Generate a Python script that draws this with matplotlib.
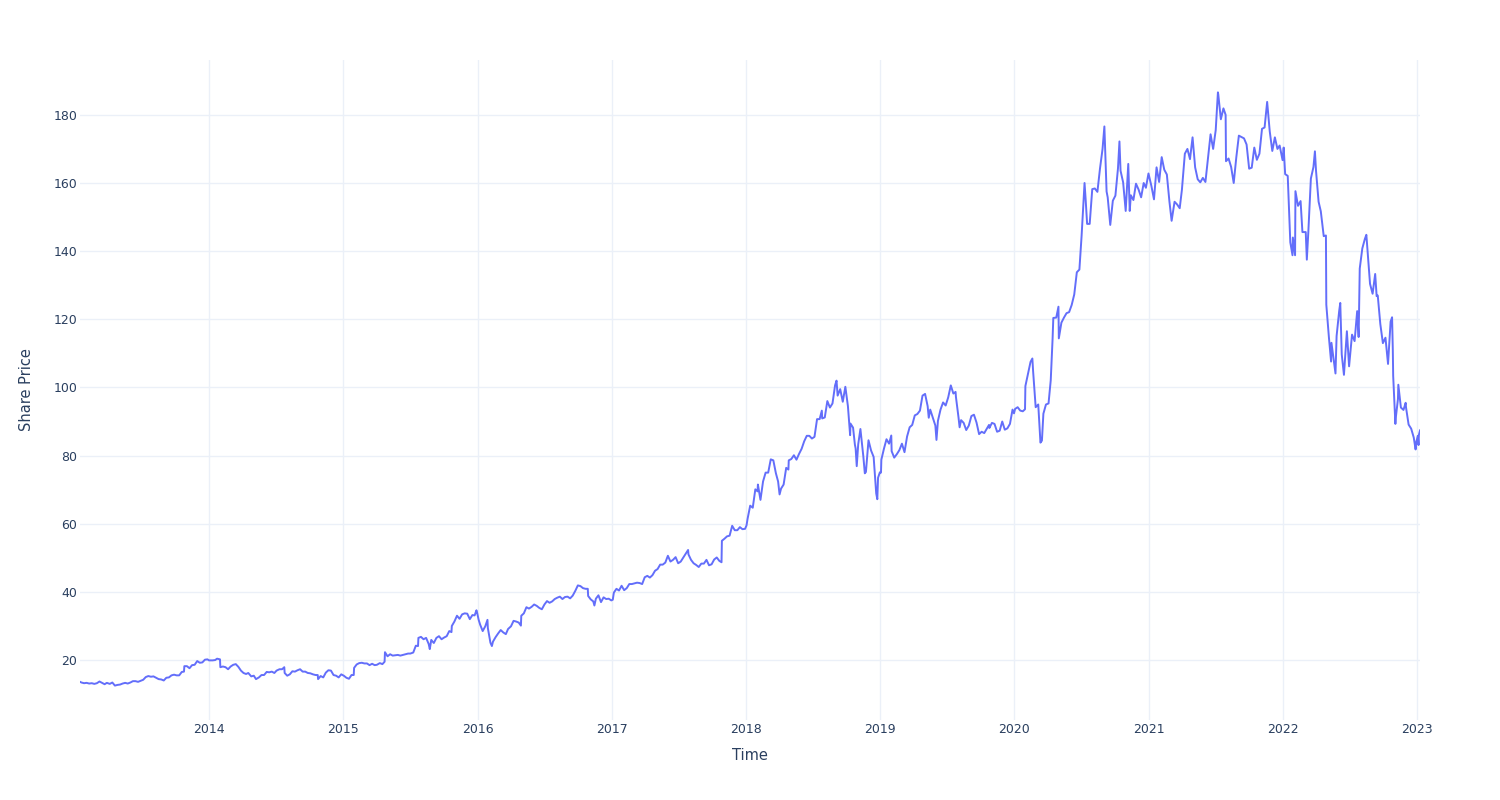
import pandas as pd
import matplotlib
matplotlib.use("Agg")
import matplotlib.pyplot as plt

# weekly-ish share prices (dates as MM-DD per year)
d2013 = ["01-14","01-18","01-25","02-01","02-08","02-15","02-22","03-01","03-08","03-15","03-22","03-28",
         "04-05","04-12","04-19","04-26","05-03","05-10","05-17","05-24","05-31","06-07","06-14","06-21","06-28",
         "07-05","07-12","07-19","07-26","08-02","08-09","08-16","08-23","08-30","09-06","09-13","09-20","09-27",
         "10-04","10-11","10-18","10-24","10-25","11-01","11-08","11-15","11-22","11-29","12-06","12-13","12-20","12-27","12-31"]
p2013 = [13.6,13.4,13.2,13.3,13.1,13.2,13.0,13.2,13.7,13.3,12.9,13.3,
         13.0,13.4,12.5,12.7,12.8,13.1,13.3,13.1,13.4,13.8,13.8,13.6,13.9,
         14.2,15.0,15.3,15.1,15.2,14.8,14.4,14.3,14.0,14.8,14.9,15.5,15.7,
         15.5,15.5,16.5,16.6,18.2,18.2,17.6,18.5,18.6,19.7,19.2,19.3,20.1,20.2,19.9]

d2014 = ["01-03","01-10","01-17","01-22","01-30","01-31","02-07","02-14","02-21","02-28","03-07","03-14","03-21","03-28",
         "04-04","04-11","04-17","04-25","05-02","05-08","05-16","05-23","05-30","06-06","06-13","06-20","06-27",
         "07-03","07-11","07-18","07-24","07-25","08-01","08-08","08-15","08-22","08-29","09-05","09-12","09-19","09-26",
         "10-03","10-10","10-17","10-23","10-24","10-31","11-07","11-14","11-21","11-28","12-05","12-12","12-19","12-26","12-31"]
p2014 = [19.9,19.9,20.0,20.4,20.2,17.9,18.1,17.9,17.3,18.1,18.6,18.8,18.0,16.9,
         16.2,15.9,16.2,15.2,15.4,14.4,14.9,15.6,15.6,16.5,16.4,16.6,16.2,
         16.9,17.3,17.3,17.9,16.2,15.4,15.8,16.7,16.6,17.0,17.3,16.6,16.6,16.2,
         16.1,15.8,15.6,15.6,14.4,15.3,14.9,16.3,17.0,16.9,15.6,15.4,14.9,15.8,15.5]

d2015 = ["01-02","01-09","01-16","01-23","01-29","01-30","02-06","02-13","02-20","02-27","03-06","03-13","03-20","03-27",
         "04-02","04-10","04-17","04-23","04-24","05-01","05-08","05-15","05-22","05-29","06-05","06-12","06-19","06-26",
         "07-02","07-10","07-17","07-23","07-24","07-31","08-07","08-14","08-21","08-24","08-28","09-04","09-11","09-18","09-25",
         "10-02","10-09","10-16","10-22","10-23","10-30","11-06","11-13","11-20","11-27","12-04","12-11","12-18","12-24","12-29","12-31"]
p2015 = [15.4,14.8,14.5,15.6,15.6,17.7,18.7,19.1,19.2,19.0,19.0,18.5,18.9,18.5,
         18.6,19.1,18.8,19.5,22.3,21.1,21.7,21.3,21.4,21.5,21.3,21.5,21.7,21.9,
         21.9,22.2,24.2,24.1,26.5,26.8,26.1,26.5,24.7,23.2,25.9,25.0,26.5,27.0,26.1,
         26.6,27.0,28.5,28.2,30.0,31.3,33.0,32.1,33.4,33.7,33.6,32.0,33.2,33.1,34.6,33.8]

d2016 = ["01-04","01-08","01-15","01-22","01-28","01-29","02-05","02-09","02-12","02-19","02-26","03-04","03-11","03-18","03-24",
         "04-01","04-08","04-15","04-22","04-28","04-29","05-06","05-13","05-20","05-27","06-03","06-10","06-17","06-24",
         "07-01","07-08","07-15","07-22","07-29","08-05","08-12","08-19","08-26","09-02","09-09","09-16","09-23","09-30",
         "10-07","10-14","10-21","10-27","10-28","11-04","11-11","11-14","11-18","11-25","12-02","12-09","12-16","12-23","12-30"]
p2016 = [31.8,30.4,28.5,29.9,31.8,29.4,25.1,24.1,25.4,26.7,27.8,28.8,28.1,27.6,29.1,
         29.9,31.5,31.3,31.0,30.1,33.0,33.7,35.5,35.1,35.6,36.3,35.9,35.3,34.9,
         36.3,37.3,36.8,37.2,37.9,38.3,38.6,37.9,38.5,38.6,38.1,38.9,40.3,41.9,
         41.7,41.1,40.9,40.9,38.8,37.8,37.2,36.0,38.0,39.0,37.0,38.4,37.9,38.0,37.5]

d2017 = ["01-03","01-06","01-13","01-20","01-27","02-03","02-10","02-17","02-24","03-03","03-10","03-17","03-24","03-31",
         "04-07","04-14","04-21","04-28","05-05","05-12","05-19","05-26","06-02","06-09","06-16","06-23","06-30",
         "07-07","07-14","07-21","07-27","07-28","08-04","08-11","08-18","08-25","09-01","09-08","09-15","09-22","09-29",
         "10-06","10-13","10-20","10-26","10-27","11-03","11-10","11-17","11-24","12-01","12-08","12-15","12-22","12-29"]
p2017 = [37.7,39.8,40.9,40.4,41.8,40.5,41.1,42.3,42.3,42.5,42.7,42.6,42.3,44.3,
         44.7,44.2,44.9,46.2,46.7,48.0,48.0,48.6,50.6,48.9,49.4,50.2,48.4,
         48.9,50.1,51.3,52.3,51.0,49.4,48.4,47.9,47.3,48.3,48.3,49.4,47.8,48.1,
         49.5,50.1,49.1,48.7,55.0,55.6,56.3,56.5,59.4,58.1,58.1,59.0,58.4,58.5]

d2018 = ["01-02","01-05","01-12","01-19","01-26","02-01","02-02","02-08","02-09","02-16","02-23","03-02","03-09","03-16","03-23","03-29",
         "04-02","04-06","04-13","04-20","04-26","04-27","05-04","05-11","05-18","05-25","06-01","06-08","06-15","06-22","06-29",
         "07-06","07-13","07-20","07-26","07-27","08-03","08-10","08-17","08-24","08-31","09-04","09-07","09-14","09-21","09-28",
         "10-05","10-11","10-12","10-19","10-24","10-26","10-29","11-02","11-08","11-16","11-20","11-23","11-30",
         "12-07","12-14","12-21","12-24","12-26","12-31"]
p2018 = [59.5,61.5,65.3,64.7,70.1,69.5,71.5,67.6,67.0,72.4,75.0,75.0,78.9,78.6,74.8,72.4,
         68.6,70.3,71.5,76.4,75.9,78.6,79.0,80.1,78.8,80.5,82.0,84.2,85.8,85.8,85.0,
         85.5,90.7,90.7,93.2,90.9,91.2,96.0,94.1,95.3,100.6,102.0,97.6,99.5,95.8,100.2,
         94.5,86.0,89.4,88.2,83.2,82.1,76.9,83.3,87.8,79.7,74.8,75.2,84.5,
         81.5,79.6,68.9,67.2,73.5,75.1]

d2019 = ["01-03","01-04","01-11","01-18","01-25","01-31","02-01","02-08","02-15","02-22","03-01","03-08","03-15","03-22","03-29",
         "04-05","04-12","04-19","04-26","05-03","05-10","05-13","05-17","05-24","05-31","06-03","06-07","06-14","06-21","06-28",
         "07-05","07-12","07-19","07-25","07-26","08-02","08-05","08-09","08-16","08-23","08-30","09-06","09-13","09-20","09-27",
         "10-04","10-11","10-18","10-24","10-25","11-01","11-08","11-15","11-22","11-29","12-06","12-13","12-20","12-27","12-31"]
p2019 = [75.0,78.8,82.0,84.8,83.5,85.9,81.3,79.4,80.4,81.6,83.5,81.0,85.6,88.3,89.0,
         91.8,92.2,93.2,97.6,98.1,94.5,91.1,93.5,91.2,88.8,84.6,90.2,93.5,95.6,94.7,
         97.1,100.6,98.2,98.7,97.2,91.2,88.3,90.4,89.6,87.5,88.8,91.6,92.0,89.7,86.3,
         87.0,86.6,87.9,89.0,88.1,89.6,89.3,87.0,87.3,90.0,87.6,88.0,89.3,93.5,92.4]

d2020 = ["01-03","01-10","01-17","01-24","01-30","01-31","02-07","02-14","02-19","02-21","02-28","03-06","03-12","03-16","03-20","03-27",
         "04-03","04-09","04-14","04-16","04-24","04-30","05-01","05-08","05-15","05-22","05-29","06-05","06-12","06-19","06-26",
         "07-02","07-10","07-13","07-17","07-24","07-31","08-07","08-14","08-21","08-28","09-02","09-08","09-11","09-18","09-25",
         "10-02","10-09","10-13","10-16","10-23","10-30","11-06","11-10","11-13","11-20","11-27","12-04","12-11","12-18","12-24","12-31"]
p2020 = [93.7,94.2,93.2,93.0,93.6,100.4,104.0,107.5,108.5,104.8,94.2,95.0,83.8,84.4,92.3,95.0,
         95.3,102.1,114.2,120.4,120.5,123.7,114.4,119.0,120.5,121.8,122.1,124.2,127.3,133.8,134.6,
         144.5,160.0,155.2,148.0,148.0,158.2,158.4,157.4,164.2,170.0,176.6,157.5,155.8,147.7,154.8,
         156.3,164.3,172.2,163.6,160.2,151.8,165.6,151.8,156.4,155.0,159.8,158.1,155.8,160.0,158.6,162.8]

d2021 = ["01-08","01-15","01-22","01-29","02-03","02-05","02-12","02-19","02-26","03-04","03-12","03-19","03-26",
         "04-01","04-09","04-16","04-23","04-30","05-07","05-14","05-21","05-28","06-04","06-11","06-18","06-25",
         "07-02","07-08","07-09","07-16","07-23","07-29","07-30","08-06","08-13","08-20","08-27","09-03","09-10","09-17","09-24",
         "10-01","10-08","10-15","10-22","10-29","11-05","11-12","11-19","11-26","12-03","12-10","12-17","12-23","12-31"]
p2021 = [159.1,155.2,164.6,160.3,165.6,167.6,163.9,162.5,154.6,148.9,154.5,153.7,152.6,
         158.0,168.6,170.0,167.0,173.4,164.6,161.1,160.2,161.5,160.3,167.3,174.3,170.0,
         175.5,186.6,186.0,178.7,181.9,180.0,166.4,167.2,164.7,160.0,167.5,173.9,173.5,173.1,171.3,
         164.2,164.5,170.4,166.8,168.6,175.9,176.3,183.8,175.2,169.4,173.4,170.0,171.0,166.7]

d2022 = ["01-03","01-07","01-14","01-21","01-27","01-28","02-03","02-04","02-11","02-18","02-23",
         "03-04","03-07","03-11","03-18","03-25","03-29","04-01","04-08","04-14","04-22","04-28","04-29",
         "05-06","05-12","05-13","05-20","05-24","05-27","06-03","06-06","06-10","06-16","06-24","06-30",
         "07-08","07-15","07-22","07-26","07-29","08-05","08-12","08-16","08-19","08-26",
         "09-02","09-09","09-13","09-16","09-23","09-30","10-07","10-14","10-21","10-25","10-27","10-28",
         "11-03","11-04","11-10","11-11","11-18","11-25","12-01","12-02","12-09","12-16","12-23","12-28","12-30"]
p2022 = [170.4,162.6,162.1,142.6,138.8,144.0,138.8,157.6,153.3,154.7,145.6,
         145.6,137.5,145.5,161.3,164.7,169.3,163.6,154.5,151.7,144.4,144.6,124.3,
         114.8,107.6,113.1,107.3,104.1,115.1,122.4,124.8,109.7,103.7,116.5,106.2,
         115.5,113.6,122.4,114.8,134.9,140.8,143.6,144.8,140.6,130.4,
         127.5,133.3,126.8,127.0,118.6,113.0,114.6,106.9,119.3,120.6,111.0,103.4,
         89.3,91.0,96.6,100.8,94.1,93.4,95.5,94.1,89.1,87.9,85.3,81.8,84.0]

d2023 = ["01-03","01-05","01-06","01-09"]
p2023 = [85.8,83.1,86.1,87.4]

years = {2013: (d2013, p2013), 2014: (d2014, p2014), 2015: (d2015, p2015),
         2016: (d2016, p2016), 2017: (d2017, p2017), 2018: (d2018, p2018),
         2019: (d2019, p2019), 2020: (d2020, p2020), 2021: (d2021, p2021),
         2022: (d2022, p2022), 2023: (d2023, p2023)}

dates, prices = [], []
for yr, (d, p) in years.items():
    assert len(d) == len(p), yr
    dates += [f"{yr}-{md}" for md in d]
    prices += p
df = pd.DataFrame({"Time": pd.to_datetime(dates), "Share Price": prices})

plt.rcParams['font.family'] = ['DejaVu Sans']
text_col = '#2a3f5f'
grid_col = '#ebf0f8'

fig = plt.figure(figsize=(15, 8), dpi=100)
ax = fig.add_axes([80 / 1500, 80 / 800, 1340 / 1500, 660 / 800])
ax.plot(df["Time"], df["Share Price"], color='#636efa', lw=1.4)

ax.set_xlim(df["Time"].iloc[0], df["Time"].iloc[-1])
ax.set_ylim(2.4, 196.1)
ax.set_yticks(range(20, 181, 20))
ax.set_xticks(pd.to_datetime([f"{y}-01-01" for y in range(2014, 2024)]))
ax.set_xticklabels([str(y) for y in range(2014, 2024)])

for s in ax.spines.values():
    s.set_visible(False)
ax.grid(True, color=grid_col, lw=1)
ax.set_axisbelow(True)
ax.tick_params(length=0, labelsize=9, labelcolor=text_col, pad=2)

ax.set_xlabel("Time", fontsize=10.5, color=text_col)
ax.set_ylabel("Share Price", fontsize=10.5, color=text_col)
ax.xaxis.label.set_va('center')
ax.yaxis.label.set_va('center')
ax.xaxis.set_label_coords(0.5, (720 - 756) / 660)
ax.yaxis.set_label_coords((27 - 80) / 1340, 0.5)

fig.savefig("out.png", dpi=100, facecolor='white')
